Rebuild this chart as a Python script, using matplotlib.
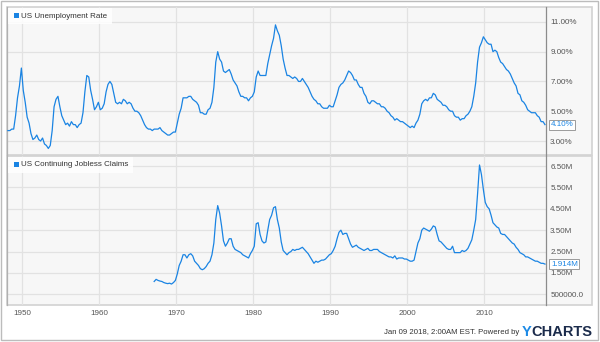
import numpy as np
import pandas as pd
import matplotlib
matplotlib.use("Agg")
import matplotlib.pyplot as plt
import matplotlib.dates as mdates
from matplotlib.patches import Rectangle

plt.rcParams['font.family'] = ['Liberation Sans', 'DejaVu Sans']

# ---- data (quarterly readings, Mar/Jun/Sep/Dec) ----
unemp_start = '1948-03-01'
unemp = [
    3.7, 3.7, 3.8, 3.8,   # 1948
    4.7, 5.9, 6.7, 7.9,   # 1949
    6.4, 5.6, 4.6, 4.2,   # 1950
    3.5, 3.1, 3.2, 3.4,   # 1951
    3.1, 3.0, 3.2, 2.8,   # 1952
    2.7, 2.5, 2.7, 3.7,   # 1953
    5.3, 5.8, 6.0, 5.3,   # 1954
    4.7, 4.4, 4.1, 4.2,   # 1955
    4.0, 4.3, 4.1, 4.1,   # 1956
    3.9, 4.1, 4.2, 4.9,   # 1957
    6.3, 7.4, 7.3, 6.4,   # 1958
    5.8, 5.1, 5.3, 5.6,   # 1959
    5.1, 5.2, 5.5, 6.3,   # 1960
    6.8, 7.0, 6.8, 6.2,   # 1961
    5.6, 5.5, 5.6, 5.5,   # 1962
    5.8, 5.7, 5.5, 5.6,   # 1963
    5.5, 5.2, 5.0, 5.0,   # 1964
    4.9, 4.7, 4.4, 4.1,   # 1965
    3.9, 3.8, 3.8, 3.7,   # 1966
    3.8, 3.8, 3.8, 3.9,   # 1967
    3.7, 3.6, 3.5, 3.4,   # 1968
    3.4, 3.5, 3.6, 3.6,   # 1969
    4.2, 4.8, 5.2, 5.9,   # 1970
    5.9, 5.9, 6.0, 6.0,   # 1971
    5.8, 5.7, 5.6, 5.4,   # 1972
    4.9, 4.9, 4.8, 4.8,   # 1973
    5.1, 5.2, 5.6, 6.6,   # 1974
    8.3, 9.0, 8.5, 8.3,   # 1975
    7.7, 7.6, 7.7, 7.8,   # 1976
    7.5, 7.1, 6.9, 6.7,   # 1977
    6.3, 6.0, 6.0, 5.9,   # 1978
    5.9, 5.7, 5.9, 6.0,   # 1979
    6.3, 7.3, 7.7, 7.4,   # 1980
    7.4, 7.4, 7.4, 8.2,   # 1981
    8.8, 9.4, 9.9, 10.8,  # 1982
    10.4, 10.1, 9.4, 8.5, # 1983
    7.9, 7.4, 7.4, 7.3,   # 1984
    7.2, 7.3, 7.2, 7.0,   # 1985
    7.0, 7.2, 7.0, 6.8,   # 1986
    6.6, 6.3, 6.0, 5.8,   # 1987
    5.7, 5.5, 5.5, 5.3,   # 1988
    5.2, 5.2, 5.2, 5.4,   # 1989
    5.3, 5.3, 5.7, 6.1,   # 1990
    6.6, 6.8, 6.9, 7.1,   # 1991
    7.4, 7.7, 7.6, 7.4,   # 1992
    7.1, 7.1, 6.8, 6.6,   # 1993
    6.6, 6.2, 6.0, 5.6,   # 1994
    5.5, 5.7, 5.7, 5.6,   # 1995
    5.5, 5.5, 5.3, 5.3,   # 1996
    5.2, 5.0, 4.9, 4.7,   # 1997
    4.6, 4.4, 4.5, 4.4,   # 1998
    4.3, 4.3, 4.2, 4.1,   # 1999
    4.0, 3.9, 4.0, 3.9,   # 2000
    4.2, 4.4, 4.8, 5.5,   # 2001
    5.7, 5.8, 5.7, 5.9,   # 2002
    5.9, 6.2, 6.1, 5.8,   # 2003
    5.7, 5.6, 5.4, 5.4,   # 2004
    5.3, 5.1, 5.0, 5.0,   # 2005
    4.7, 4.6, 4.6, 4.4,   # 2006
    4.5, 4.5, 4.7, 4.8,   # 2007
    5.0, 5.3, 6.0, 6.9,   # 2008
    8.3, 9.3, 9.6, 10.0,  # 2009
    9.8, 9.6, 9.5, 9.5,   # 2010
    9.0, 9.1, 9.0, 8.6,   # 2011
    8.3, 8.2, 8.0, 7.8,   # 2012
    7.7, 7.5, 7.2, 6.9,   # 2013
    6.7, 6.2, 6.1, 5.7,   # 2014
    5.6, 5.4, 5.1, 5.0,   # 2015
    4.9, 4.9, 4.9, 4.7,   # 2016
    4.6, 4.3, 4.3, 4.1,   # 2017
]

claims_start = '1967-03-01'
claims = [  # millions
    1.10, 1.20, 1.15, 1.12,   # 1967
    1.10, 1.05, 1.02, 1.00,   # 1968
    1.02, 0.98, 1.05, 1.15,   # 1969
    1.45, 1.85, 2.05, 2.35,   # 1970
    2.35, 2.20, 2.35, 2.40,   # 1971
    2.30, 2.05, 1.95, 1.85,   # 1972
    1.70, 1.65, 1.70, 1.80,   # 1973
    1.95, 2.05, 2.35, 2.90,   # 1974
    4.00, 4.65, 4.30, 3.70,   # 1975
    3.00, 2.75, 2.90, 3.10,   # 1976
    3.10, 2.75, 2.60, 2.55,   # 1977
    2.50, 2.45, 2.35, 2.30,   # 1978
    2.25, 2.20, 2.40, 2.55,   # 1979
    2.75, 3.80, 3.85, 3.30,   # 1980
    3.00, 2.90, 2.95, 3.50,   # 1981
    4.00, 4.20, 4.55, 4.60,   # 1982
    4.00, 3.60, 2.95, 2.55,   # 1983
    2.45, 2.35, 2.45, 2.50,   # 1984
    2.60, 2.55, 2.60, 2.60,   # 1985
    2.65, 2.70, 2.60, 2.50,   # 1986
    2.40, 2.25, 2.10, 1.95,   # 1987
    2.05, 2.00, 2.05, 2.10,   # 1988
    2.10, 2.15, 2.25, 2.35,   # 1989
    2.40, 2.55, 2.75, 3.10,   # 1990
    3.40, 3.50, 3.30, 3.35,   # 1991
    3.35, 3.10, 2.85, 2.70,   # 1992
    2.75, 2.80, 2.70, 2.65,   # 1993
    2.60, 2.55, 2.60, 2.65,   # 1994
    2.55, 2.55, 2.60, 2.60,   # 1995
    2.60, 2.50, 2.45, 2.40,   # 1996
    2.35, 2.30, 2.25, 2.25,   # 1997
    2.20, 2.30, 2.15, 2.20,   # 1998
    2.20, 2.20, 2.15, 2.15,   # 1999
    2.10, 2.05, 2.05, 2.10,   # 2000
    2.50, 2.90, 3.10, 3.50,   # 2001
    3.60, 3.55, 3.50, 3.45,   # 2002
    3.55, 3.70, 3.65, 3.30,   # 2003
    3.00, 2.95, 2.85, 2.75,   # 2004
    2.65, 2.60, 2.60, 2.75,   # 2005
    2.45, 2.45, 2.45, 2.45,   # 2006
    2.55, 2.50, 2.55, 2.65,   # 2007
    2.85, 3.05, 3.50, 4.00,   # 2008
    5.20, 6.55, 6.10, 5.40,   # 2009
    4.80, 4.60, 4.50, 4.20,   # 2010
    3.85, 3.75, 3.65, 3.60,   # 2011
    3.35, 3.30, 3.30, 3.20,   # 2012
    3.10, 3.00, 2.90, 2.85,   # 2013
    2.70, 2.60, 2.45, 2.40,   # 2014
    2.35, 2.25, 2.25, 2.20,   # 2015
    2.15, 2.10, 2.05, 2.05,   # 2016
    2.00, 1.95, 1.95, 1.914,  # 2017
]

unemp_ticks = [3, 5, 7, 9, 11]
unemp_labels = ['3.00%', '5.00%', '7.00%', '9.00%', '11.00%']
claims_ticks = [0.5, 1.5, 2.5, 3.5, 4.5, 5.5, 6.5]
claims_labels = ['500000.0', '1.50M', '2.50M', '3.50M', '4.50M', '5.50M', '6.50M']
unemp_tag = '4.10%'
claims_tag = '1.914M'

# ---- styling ----
W, H = 600, 342
blue = '#1a84e3'
bg = '#f7f7f7'
gridc = '#e2e2e2'
tick_col = '#555555'
fs = 5.8

fig = plt.figure(figsize=(W / 100, H / 100), dpi=100)


def frect(x0, y0, x1, y1, **kw):
    r = Rectangle((x0 / W, 1 - y1 / H), (x1 - x0) / W, (y1 - y0) / H,
                  transform=fig.transFigure, figure=fig, **kw)
    fig.patches.append(r)
    return r


# outer frame
frect(1, 1, 598, 340, facecolor='white', edgecolor='#bcbcbc', lw=1, zorder=-3)

xlim = (pd.Timestamp('1948-01-19'), pd.Timestamp('2018-01-19'))


def panel(y0, y1, start, vals, ticks, labels, ylim, tag, name, legend_x1, show_years):
    frect(7, y0, 592, y1, facecolor=bg, edgecolor='#d2d2d2', lw=1.2, zorder=-1)
    ax = fig.add_axes([7 / W, 1 - y1 / H, (546 - 7) / W, (y1 - y0) / H])
    ax.set_facecolor('none')
    dates = pd.date_range(start, periods=len(vals), freq='QS-MAR')
    ax.plot(dates, vals, color=blue, lw=0.9, zorder=3)
    ax.set_xlim(*xlim)
    ax.set_ylim(*ylim)
    ax.yaxis.tick_right()
    ax.set_yticks(ticks, labels)
    ax.tick_params(axis='y', length=0, pad=3, labelsize=fs, labelcolor=tick_col)
    ax.xaxis.set_major_locator(mdates.YearLocator(10))
    ax.xaxis.set_major_formatter(mdates.DateFormatter('%Y'))
    ax.tick_params(axis='x', length=0, pad=3.5, labelsize=fs, labelcolor=tick_col,
                   labelbottom=show_years)
    ax.grid(color=gridc, lw=0.9)
    ax.set_axisbelow(True)
    for s in ['top', 'bottom']:
        ax.spines[s].set_visible(False)
    ax.spines['left'].set_color('#b0b0b0')
    ax.spines['right'].set_color('#8c8c8c')
    ax.spines['left'].set_linewidth(0.9)
    ax.spines['right'].set_linewidth(0.9)

    ax.annotate(tag, xy=(1, vals[-1]), xycoords=('axes fraction', 'data'),
                xytext=(5, 0), textcoords='offset pixels', ha='left', va='center',
                fontsize=fs, color=blue, annotation_clip=False,
                bbox=dict(boxstyle='square,pad=0.2', fc='white', ec='#9a9a9a', lw=0.7))

    # legend chip
    frect(8, y0 + 1, legend_x1, y0 + 17, facecolor='white', edgecolor='none',
          alpha=0.85, zorder=4)
    frect(14, y0 + 6, 19, y0 + 11, facecolor=blue, edgecolor='none', zorder=5)
    fig.text(21 / W, 1 - (y0 + 9) / H, name, ha='left', va='center',
             fontsize=fs, color='#333333', zorder=5)
    return ax


panel(7, 155, unemp_start, unemp, unemp_ticks, unemp_labels, (2.06, 12.0),
      unemp_tag, 'US Unemployment Rate', 112, False)
panel(156, 305, claims_start, claims, claims_ticks, claims_labels, (0.0, 6.97),
      claims_tag, 'US Continuing Jobless Claims', 133, True)

# footer
t = fig.text(592 / W, 1 - 331.5 / H, 'CHARTS', ha='right', va='center',
             fontsize=10.5, weight='bold', color='#1b2b4b')
r = fig.canvas.get_renderer()
bb = t.get_window_extent(renderer=r)
ty = fig.text(bb.x0 / W, 1 - 331.5 / H, 'Y', ha='right', va='center',
              fontsize=10.5, weight='bold', color='#1c8ae6')
by = ty.get_window_extent(renderer=r)
fig.text((by.x0 - 2) / W, 1 - 332 / H, 'Jan 09 2018, 2:00AM EST. Powered by',
         ha='right', va='center', fontsize=5.6, color='#333333')

fig.savefig('out.png', dpi=100)
